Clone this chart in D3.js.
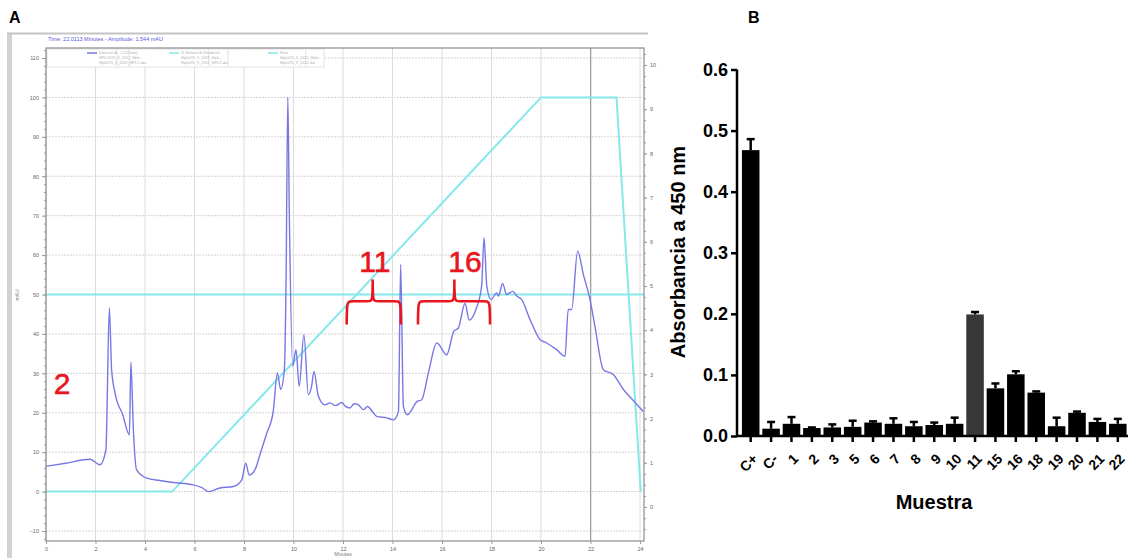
<!DOCTYPE html>
<html lang="en">
<head>
<meta charset="utf-8">
<title>Cromatograma y absorbancia</title>
<script src="https://d3js.org/d3.v7.min.js"></script>
<style>
  body { margin: 0; background: #fff; }
  svg { display: block; font-family: "Liberation Sans", Arial, sans-serif; }
</style>
</head>
<body>
<svg width="1128" height="558"></svg>
<script>
// ---- panel A: chromatogram (minutes, mAU) ----
const traceTime = [0, 0.8, 1.78, 2.18, 2.42, 2.56, 2.65, 2.79, 3.1, 3.37, 3.43, 3.53, 3.66, 4.07, 4.6, 5.14, 5.95, 6.3, 6.57, 7.03, 7.57, 7.91, 8.07, 8.21, 8.44, 8.7, 8.92, 9.18, 9.35, 9.48, 9.63, 9.7, 9.77, 9.83, 9.97, 10.1, 10.23, 10.42, 10.6, 10.73, 10.83, 11.0, 11.27, 11.47, 11.7, 11.95, 12.1, 12.28, 12.45, 12.62, 12.83, 12.99, 13.2, 13.36, 13.77, 14.04, 14.24, 14.33, 14.44, 14.6, 15.0, 15.18, 15.45, 15.79, 16.19, 16.48, 16.66, 16.93, 17.1, 17.37, 17.6, 17.7, 17.81, 17.98, 18.21, 18.28, 18.45, 18.61, 18.86, 19.02, 19.22, 19.56, 19.96, 20.23, 20.63, 20.97, 21.1, 21.24, 21.48, 21.71, 21.98, 22.18, 22.52, 22.92, 23.33, 23.73, 24.13];
const traceMAU = [6.4, 7.2, 8.2, 6.8, 10.6, 46.6, 31, 25, 19.5, 14.4, 32.8, 15.7, 5.5, 3.4, 2.8, 2.3, 1.7, 1.0, 0, 0.9, 1.3, 3, 7.2, 4.2, 5.5, 10.5, 14.8, 20.3, 30.1, 25.9, 30.9, 53.8, 100, 70.8, 31.8, 36, 26.7, 39.8, 24.6, 26.7, 30.5, 24.3, 22, 22.5, 21.8, 22.6, 21.6, 21.2, 22.3, 22, 20.8, 21.6, 20.2, 19.1, 18.7, 18.2, 20.3, 57.6, 21.6, 19.5, 22.9, 23.3, 30.1, 37.7, 34.7, 40.7, 41.5, 47.7, 43.5, 46.2, 52.1, 64.4, 52.1, 48.7, 50.4, 49.6, 52.8, 50, 50.8, 49.6, 48.7, 43.6, 38.6, 37.7, 36, 34.3, 46.2, 46.2, 61, 55.1, 48.7, 41.9, 30.9, 29.7, 25.9, 23.1, 20.3];
const gradTime = [0, 5.1, 20, 23.05, 24.03];
const gradValue = [0, 0, 100, 100, 0];
const refTime = [0, 24.16];
const refValue = [50, 50];
const timeTicks = d3.range(0, 25, 2);
const mauTicks = d3.range(-10, 111, 10);
const rightTicks = d3.range(0, 11, 1);
const cursorTime = 22.01;
const fractionLabels = [
  { text: "2", t: 0.65, v: 24.8 },
  { text: "11", t: 13.29, v: 55.6 },
  { text: "16", t: 16.93, v: 55.6 }
];
const braces = [
  { t0: 12.15, tm: 13.2, t1: 14.34 },
  { t0: 15.03, tm: 16.5, t1: 17.94 }
];
const legendItems = [
  { color: "#7777e6", lines: ["Detector A - 1 (220nm)", "HPLC070_9_2012_Hplc...", "Hplc070_9_2012_HPLC.dat"] },
  { color: "#86e8ea", lines: ["% Solvent B (Gradient)", "Hplc070_9_2012_Hplc...", "Hplc070_9_2012_HPLC.dat"] },
  { color: "#86e8ea", lines: ["Flow", "Hplc070_9_2012_Hplc...", "Hplc070_9_2012.dat"] }
];

// ---- panel B: absorbance per sample ----
const samples = ["C+", "C-", "1", "2", "3", "5", "6", "7", "8", "9", "10", "11", "15", "16", "18", "19", "20", "21", "22"];
const absorbance = [0.468, 0.012, 0.02, 0.013, 0.014, 0.015, 0.022, 0.02, 0.016, 0.018, 0.02, 0.199, 0.078, 0.101, 0.071, 0.016, 0.038, 0.023, 0.02];
const absError = [0.018, 0.011, 0.011, 0.001, 0.005, 0.01, 0.002, 0.009, 0.007, 0.004, 0.01, 0.004, 0.008, 0.005, 0.002, 0.014, 0.002, 0.005, 0.008];
const absTicks = [0, 0.1, 0.2, 0.3, 0.4, 0.5, 0.6];

const svg = d3.select("svg");

// ================= panel A =================
const xA = d3.scaleLinear().domain([0, 24]).range([46, 640]);
const yA = d3.scaleLinear().domain([-10, 110]).range([531, 58]);
const yR = d3.scaleLinear().domain([0, 10]).range([507, 65]);
const frame = { left: 46, right: 644, top: 48, bottom: 541 };

// software window border
svg.append("rect").attr("x", 7).attr("y", 33).attr("width", 5).attr("height", 525).attr("fill", "#d2d2d2");
svg.append("line").attr("x1", 7).attr("x2", 648).attr("y1", 33.5).attr("y2", 33.5)
  .attr("stroke", "#c4c4c4").attr("stroke-width", 2);

svg.append("text").attr("x", 48).attr("y", 41)
  .attr("font-size", 5.5).attr("fill", "#5a5ad8")
  .text("Time:  22.0113 Minutes  -  Amplitude:  1.544 mAU");

const gA = svg.append("g");
gA.append("defs").append("clipPath").attr("id", "clipA")
  .append("rect").attr("x", frame.left).attr("y", frame.top)
  .attr("width", frame.right - frame.left).attr("height", frame.bottom - frame.top);

// grid
gA.selectAll(".hgrid").data(mauTicks).join("line")
  .attr("x1", frame.left).attr("x2", frame.right)
  .attr("y1", d => yA(d)).attr("y2", d => yA(d))
  .attr("stroke", "#d4d4d4").attr("stroke-width", 1).attr("stroke-dasharray", "2,1");
gA.selectAll(".vgrid").data(timeTicks).join("line")
  .attr("x1", d => xA(d)).attr("x2", d => xA(d))
  .attr("y1", frame.top).attr("y2", frame.bottom)
  .attr("stroke", "#dcdcdc").attr("stroke-width", 1);
gA.append("line")
  .attr("x1", xA(cursorTime)).attr("x2", xA(cursorTime))
  .attr("y1", frame.top).attr("y2", frame.bottom)
  .attr("stroke", "#8a8a8a").attr("stroke-width", 1);

// legend
const legW = [82, 99, 96];
let lx = frame.left + 1;
const leg = gA.append("g");
leg.append("rect").attr("x", lx).attr("y", frame.top + 1).attr("width", d3.sum(legW)).attr("height", 18)
  .attr("fill", "#fff").attr("stroke", "#e2e2e2");
legendItems.forEach((it, i) => {
  const x0 = lx;
  leg.append("line").attr("x1", x0 + 40).attr("x2", x0 + 50).attr("y1", frame.top + 5).attr("y2", frame.top + 5)
    .attr("stroke", it.color).attr("stroke-width", 1.5);
  leg.append("line").attr("x1", x0 + legW[i] * 0.55 + 25).attr("x2", x0 + legW[i] * 0.55 + 25)
    .attr("y1", frame.top + 1).attr("y2", frame.top + 19).attr("stroke", "#e6e6e6");
  it.lines.forEach((s, j) => {
    leg.append("text").attr("x", x0 + 52).attr("y", frame.top + 6 + j * 5)
      .attr("font-size", 3.8).attr("fill", "#b0b0b0").text(s);
  });
  if (i > 0) leg.append("line").attr("x1", x0).attr("x2", x0).attr("y1", frame.top + 1).attr("y2", frame.top + 19).attr("stroke", "#e0e0e0");
  lx += legW[i];
});

// traces
const lineA = d3.line().x(d => xA(d[0])).y(d => yA(d[1])).curve(d3.curveMonotoneX);
const plotA = gA.append("g").attr("clip-path", "url(#clipA)");
plotA.append("path").datum(d3.zip(refTime, refValue)).attr("d", lineA)
  .attr("fill", "none").attr("stroke", "#86e8ea").attr("stroke-width", 2);
plotA.append("path").datum(d3.zip(gradTime, gradValue)).attr("d", d3.line().x(d => xA(d[0])).y(d => yA(d[1])))
  .attr("fill", "none").attr("stroke", "#86e8ea").attr("stroke-width", 2);
plotA.append("path").datum(d3.zip(traceTime, traceMAU)).attr("d", lineA)
  .attr("fill", "none").attr("stroke", "#7777e6").attr("stroke-width", 1.4)
  .attr("stroke-linejoin", "round");

// frame
gA.append("rect").attr("x", frame.left).attr("y", frame.top)
  .attr("width", frame.right - frame.left).attr("height", frame.bottom - frame.top)
  .attr("fill", "none").attr("stroke", "#8c8c8c").attr("stroke-width", 1.2);

// axes
const axLeft = gA.append("g").attr("transform", `translate(${frame.left},0)`)
  .call(d3.axisLeft(yA).tickValues(d3.range(-12, 113, 2)).tickSize(2).tickFormat(""));
const axLeftMaj = gA.append("g").attr("transform", `translate(${frame.left},0)`)
  .call(d3.axisLeft(yA).tickValues(mauTicks).tickSize(4).tickPadding(3));
const axBottom = gA.append("g").attr("transform", `translate(0,${frame.bottom})`)
  .call(d3.axisBottom(xA).tickValues(timeTicks).tickSize(3).tickPadding(3));
const axRight = gA.append("g").attr("transform", `translate(${frame.right},0)`)
  .call(d3.axisRight(yR).tickValues(d3.range(-0.5, 10.4, 0.25)).tickSize(2).tickFormat(""));
const axRightMaj = gA.append("g").attr("transform", `translate(${frame.right},0)`)
  .call(d3.axisRight(yR).tickValues(rightTicks).tickSize(3).tickPadding(3));
[axLeft, axLeftMaj, axBottom, axRight, axRightMaj].forEach(a => {
  a.select(".domain").remove();
  a.selectAll("line").attr("stroke", "#9a9a9a");
  a.selectAll("text").attr("font-size", 5.5).attr("fill", "#666").attr("font-family", "Liberation Sans, Arial");
});

svg.append("text").attr("transform", "translate(19,295) rotate(-90)")
  .attr("text-anchor", "middle").attr("font-size", 5).attr("fill", "#777").text("mAU");
svg.append("text").attr("x", 343).attr("y", 556)
  .attr("text-anchor", "middle").attr("font-size", 5).attr("fill", "#777").text("Minutes");

// red annotations
const red = "#e8161e";
svg.selectAll(".frac").data(fractionLabels).join("text")
  .attr("x", d => xA(d.t)).attr("y", d => yA(d.v))
  .attr("text-anchor", "middle").attr("font-size", 30).attr("fill", red)
  .attr("stroke", red).attr("stroke-width", 0.6)
  .text(d => d.text);
const yEnd = yA(42.4), yMid = yA(48.3), yPeak = yA(53.8);
svg.selectAll(".brace").data(braces).join("path")
  .attr("d", d => {
    const x0 = xA(d.t0), xm = xA(d.tm), x1 = xA(d.t1);
    return `M${x0},${yEnd} C${x0},${yMid} ${x0},${yMid} ${x0 + 7},${yMid}`
      + ` L${xm - 6},${yMid} C${xm},${yMid} ${xm},${yMid} ${xm},${yPeak}`
      + ` C${xm},${yMid} ${xm},${yMid} ${xm + 6},${yMid}`
      + ` L${x1 - 7},${yMid} C${x1},${yMid} ${x1},${yMid} ${x1},${yEnd}`;
  })
  .attr("fill", "none").attr("stroke", red).attr("stroke-width", 2.6);

svg.append("text").attr("x", 9).attr("y", 23).attr("font-size", 16).attr("font-weight", "bold").text("A");

// ================= panel B =================
const xB = d3.scaleBand().domain(samples).range([740.5, 1128]).paddingInner(0.14).paddingOuter(0.07);
const yB = d3.scaleLinear().domain([0, 0.6]).range([436, 69.5]);

svg.append("text").attr("x", 748).attr("y", 23).attr("font-size", 16).attr("font-weight", "bold").text("B");

const gB = svg.append("g");
gB.selectAll(".bar").data(samples).join("rect")
  .attr("x", d => xB(d)).attr("width", xB.bandwidth())
  .attr("y", (d, i) => yB(absorbance[i]))
  .attr("height", (d, i) => yB(0) - yB(absorbance[i]))
  .attr("fill", d => d === "11" ? "#383838" : "#000");

const errs = gB.selectAll(".err").data(samples).join("g");
errs.append("line")
  .attr("x1", d => xB(d) + xB.bandwidth() / 2).attr("x2", d => xB(d) + xB.bandwidth() / 2)
  .attr("y1", (d, i) => yB(absorbance[i])).attr("y2", (d, i) => yB(absorbance[i] + absError[i]))
  .attr("stroke", "#000").attr("stroke-width", 2.5);
errs.append("line")
  .attr("x1", d => xB(d) + xB.bandwidth() / 2 - 4).attr("x2", d => xB(d) + xB.bandwidth() / 2 + 4)
  .attr("y1", (d, i) => yB(absorbance[i] + absError[i])).attr("y2", (d, i) => yB(absorbance[i] + absError[i]))
  .attr("stroke", "#000").attr("stroke-width", 2.5);

const axYB = gB.append("g").attr("transform", "translate(737,0)")
  .call(d3.axisLeft(yB).tickValues(absTicks).tickFormat(d3.format(".1f")).tickSize(6).tickPadding(3));
const axXB = gB.append("g").attr("transform", "translate(0,436)")
  .call(d3.axisBottom(xB).tickSize(6).tickPadding(3).tickSizeOuter(0));
axXB.select(".domain").attr("d", "M737,0H1128");
[axYB, axXB].forEach(a => {
  a.selectAll("path, line").attr("stroke", "#000").attr("stroke-width", 2.5);
  a.selectAll("text").attr("font-family", "Liberation Sans, Arial").attr("font-weight", "bold").attr("fill", "#000");
});
axYB.select(".domain").attr("d", "M0,69.5V436");
axYB.selectAll("text").attr("font-size", 18);
axXB.selectAll("text").attr("font-size", 14)
  .attr("text-anchor", "end").attr("dy", "0.35em")
  .attr("transform", "translate(-2,14) rotate(-45)");

svg.append("text").attr("transform", "translate(685,252) rotate(-90)")
  .attr("text-anchor", "middle").attr("font-size", 20).attr("font-weight", "bold").text("Absorbancia a 450 nm");
svg.append("text").attr("x", 934).attr("y", 509)
  .attr("text-anchor", "middle").attr("font-size", 20).attr("font-weight", "bold").text("Muestra");
</script>
</body>
</html>
